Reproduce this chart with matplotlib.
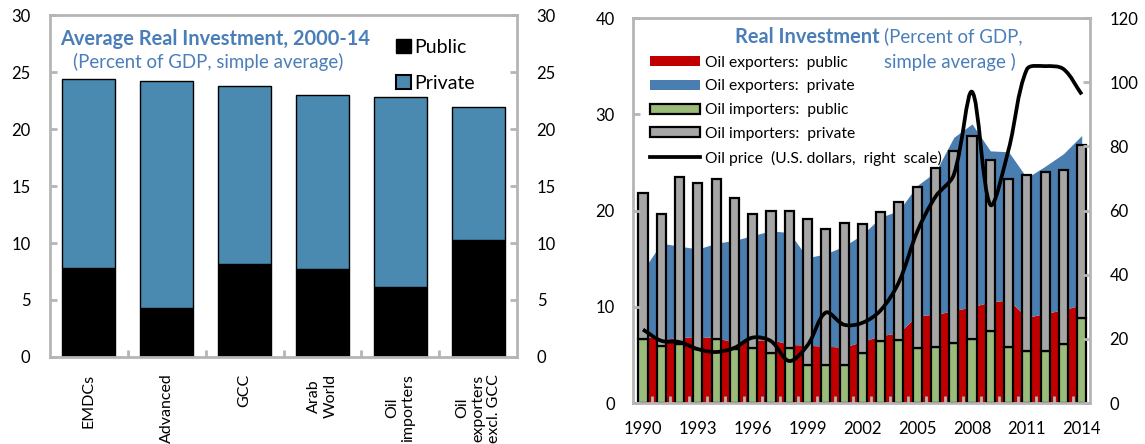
import numpy as np
import matplotlib.pyplot as plt
from matplotlib.patches import Patch, PathPatch
from matplotlib.lines import Line2D
from matplotlib.path import Path

# left panel: average real investment 2000-14 (percent of GDP)
groups = ["EMDCs", "Advanced", "GCC", "Arab\nWorld", "Oil\nimporters", "Oil\nexporters\nexcl. GCC"]
avg_public = [7.8, 4.3, 8.2, 7.7, 6.1, 10.3]
avg_private = [16.6, 19.9, 15.6, 15.3, 16.7, 11.6]

# right panel: real investment by year (percent of GDP), oil price in US$
years = list(range(1990, 2015))
exp_public = [7.0, 6.6, 6.8, 6.9, 6.8, 6.3, 6.5, 6.6, 6.1, 6.0, 5.9, 5.8, 6.4,
              7.0, 7.3, 9.1, 9.2, 9.6, 10.0, 10.5, 10.7, 8.9, 9.3, 9.7, 10.2]
exp_private = [6.8, 10.0, 9.5, 9.1, 9.8, 10.6, 10.9, 11.3, 11.6, 9.1, 9.6, 10.5, 11.1,
               12.3, 12.7, 13.5, 14.8, 18.0, 19.0, 15.7, 15.4, 14.5, 15.3, 16.2, 17.6]
imp_public = [6.6, 5.9, 6.1, 5.6, 6.6, 5.6, 5.7, 5.2, 5.7, 3.9, 4.0, 4.0, 5.2,
              6.4, 6.5, 5.7, 5.8, 6.2, 6.6, 7.5, 5.8, 5.4, 5.4, 6.1, 8.8]
imp_private = [15.2, 13.7, 17.4, 17.3, 16.7, 15.7, 13.9, 14.8, 14.3, 15.2, 14.1, 14.7, 13.4,
               13.4, 14.4, 16.7, 18.6, 20.0, 21.1, 17.8, 17.5, 18.3, 18.6, 18.1, 18.0]
oil_price = [22.9, 19.4, 19.0, 16.8, 15.9, 17.2, 20.4, 19.3, 13.1, 18.0, 28.2, 24.4, 25.0,
             28.9, 37.7, 53.4, 64.3, 71.1, 97.0, 61.8, 79.0, 104.0, 105.0, 104.1, 96.2]
year_labels = [1990, 1993, 1996, 1999, 2002, 2005, 2008, 2011, 2014]
legend_labels = ["Oil exporters:  public", "Oil exporters:  private", "Oil importers:  public",
                 "Oil importers:  private", "Oil price  (U.S. dollars,  right  scale)"]

plt.rcParams['font.family'] = ['Lato', 'DejaVu Sans']

TITLE_BLUE = "#4A7EB8"
FRAME = "#B5B5B5"
LEFT_BLUE = "#4A8AB0"
AREA_BLUE = "#4A7EB1"
RED = "#C00000"
GREEN = "#9BBB7B"
GRAY = "#A6A6A6"

fig = plt.figure(figsize=(11.45, 4.44), dpi=100)
renderer = fig.canvas.get_renderer()


def size_for(text, width_px, **kw):
    # font size (pt) that gives the text the wanted width in pixels
    t = fig.text(0, 0, text, fontsize=10, **kw)
    w = t.get_window_extent(renderer).width
    t.remove()
    return 10 * width_px / w


def smooth_path(ax, xs, ys):
    # Excel-like smoothed line, built in pixel space so corners stay tight
    pts = ax.transData.transform(np.column_stack([xs, ys]))
    n = len(pts)
    verts = [pts[0]]
    codes = [Path.MOVETO]
    for i in range(n - 1):
        p0 = pts[i - 1] if i > 0 else pts[i]
        p1, p2 = pts[i], pts[i + 1]
        p3 = pts[i + 2] if i + 2 < n else pts[i + 1]
        d01 = np.hypot(*(p1 - p0))
        d12 = np.hypot(*(p2 - p1))
        d23 = np.hypot(*(p3 - p2))
        c1 = p1 + (p2 - p0) * d12 / (d01 + d12) / 3
        c2 = p2 - (p3 - p1) * d12 / (d12 + d23) / 3
        verts += [c1, c2, p2]
        codes += [Path.CURVE4] * 3
    return Path(ax.transData.inverted().transform(np.array(verts)), codes)


def style_frame(ax):
    for s in ax.spines.values():
        s.set_color(FRAME)
        s.set_linewidth(2.0)


title_size = size_for("Real Investment", 145, fontweight="bold")
sub_size = size_for("(Percent of GDP,", 138)

axL = fig.add_axes([0.0437, 0.196, 0.408, 0.770])
axR = fig.add_axes([0.5528, 0.0923, 0.3991, 0.8671])
axR2 = axR.twinx()

# ---- left panel
x = np.arange(len(groups))
axL.bar(x, avg_public, 0.68, color="black", edgecolor="black", lw=1.0)
axL.bar(x, avg_private, 0.68, bottom=avg_public, color=LEFT_BLUE, edgecolor="black", lw=1.0)
axL.set_xlim(-0.5, len(groups) - 0.5)
axL.set_ylim(0, 30)
axL.set_yticks(range(0, 31, 5))
axL.set_xticks(x)
axL.set_xticklabels(groups, rotation=90, va="top", ha="center", multialignment="center")
axL.set_xticks(np.arange(0.5, len(groups) - 1), minor=True)
axL.tick_params(axis="x", which="major", length=0, pad=12, labelsize=11.5)
axL.tick_params(axis="x", which="minor", direction="in", length=5, width=2, color=FRAME)
axL.tick_params(axis="y", direction="in", length=5, width=2, color=FRAME, left=True, right=True,
                labelleft=True, labelright=True, labelsize=12, pad=14)
style_frame(axL)

axL.text(0.021, 0.93, "Average Real Investment, 2000-14", transform=axL.transAxes,
         fontsize=title_size, fontweight="bold", color=TITLE_BLUE, va="center", ha="left")
axL.text(0.049, 0.862, "(Percent of GDP, simple average)", transform=axL.transAxes,
         fontsize=sub_size, color=TITLE_BLUE, va="center", ha="left")
leg_size = size_for("Public", 52)
axL.legend([Patch(fc="black", ec="black"), Patch(fc=LEFT_BLUE, ec="black", lw=1.5)],
           ["Public", "Private"], loc="upper left", bbox_to_anchor=(0.741, 0.93),
           frameon=False, fontsize=leg_size, handlelength=0.75, handleheight=0.75,
           handletextpad=0.2, labelspacing=0.95, borderpad=0, borderaxespad=0)

# ---- right panel
exp_total = np.array(exp_public) + np.array(exp_private)
axR.fill_between(years, 0, exp_public, color=RED, lw=0, zorder=1)
axR.fill_between(years, exp_public, exp_total, color=AREA_BLUE, lw=0, zorder=1)
axR.bar(years, imp_public, 0.5, color=GREEN, edgecolor="black", lw=1.6, zorder=1.5)
axR.bar(years, imp_private, 0.5, bottom=imp_public, color=GRAY, edgecolor="black", lw=1.6, zorder=1.5)
axR.set_xlim(1989.45, 2014.45)
axR.set_ylim(0, 40)
axR.set_yticks(range(0, 41, 10))
axR.set_xticks(year_labels)
axR.set_xticks(np.arange(1990.5, 2014, 1), minor=True)
axR.tick_params(axis="x", which="major", length=0, pad=13, labelsize=12)
axR.tick_params(axis="x", which="minor", direction="in", length=5, width=2, color=FRAME)
axR.tick_params(axis="y", direction="in", length=5, width=2, color=FRAME, labelsize=12, pad=13)
style_frame(axR)

axR2.set_ylim(0, 120)
axR2.set_yticks(range(0, 121, 20))
axR2.tick_params(axis="y", direction="in", length=5, width=2, color=FRAME, labelsize=12, pad=14)
for s in axR2.spines.values():
    s.set_visible(False)
axR2.add_patch(PathPatch(smooth_path(axR2, years, oil_price), fill=False, ec="black", lw=2.7,
                         capstyle="butt", joinstyle="round"))

axR.text(0.54, 0.952, "Real Investment", transform=axR.transAxes, fontsize=title_size,
         fontweight="bold", color=TITLE_BLUE, va="center", ha="right")
axR.text(0.549, 0.952, "(Percent of GDP,", transform=axR.transAxes, fontsize=sub_size,
         color=TITLE_BLUE, va="center", ha="left")
axR.text(0.549, 0.887, "simple average )", transform=axR.transAxes, fontsize=sub_size,
         color=TITLE_BLUE, va="center", ha="left")

handles = [Patch(fc=RED, ec="none"), Patch(fc=AREA_BLUE, ec="none"),
           Patch(fc=GREEN, ec="black", lw=1.6), Patch(fc=GRAY, ec="black", lw=1.6),
           Line2D([], [], color="black", lw=2.7)]
leg2_size = size_for(legend_labels[-1], 236)
axR2.legend(handles, legend_labels, loc="upper left", bbox_to_anchor=(0.037, 0.902), frameon=False,
            fontsize=leg2_size, handlelength=3.2, handleheight=0.6, handletextpad=0.35,
            labelspacing=0.62, borderpad=0, borderaxespad=0)

fig.savefig("out.png", dpi=100)
plt.close(fig)
